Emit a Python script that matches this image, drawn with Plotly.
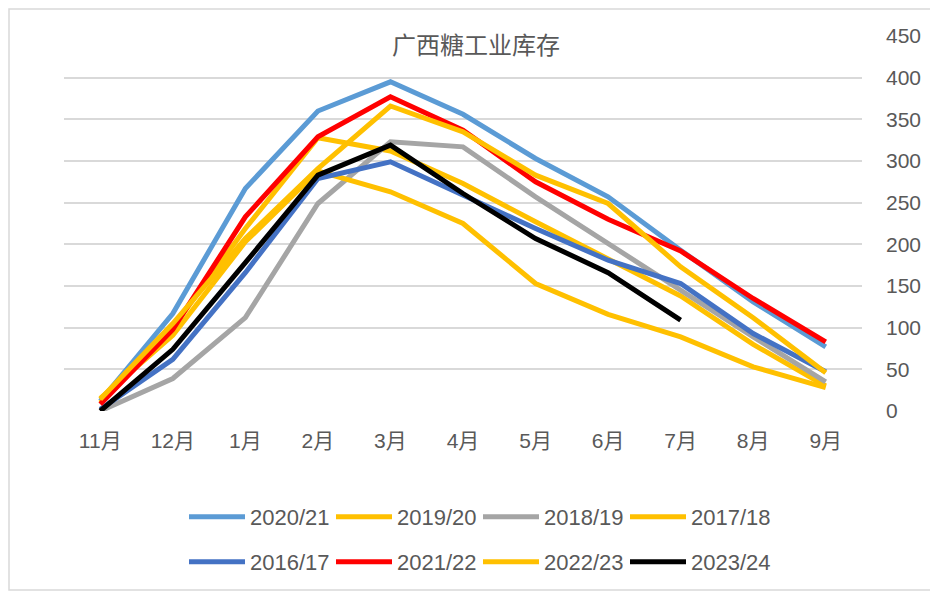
import plotly.graph_objects as go

months = ["11月", "12月", "1月", "2月", "3月", "4月", "5月", "6月", "7月", "8月", "9月"]

s_2020_21 = [12, 117, 267, 360, 395, 356, 303, 257, 193, 131, 77]
s_2019_20 = [10, 100, 219, 328, 312, 273, 227, 183, 138, 80, 30]
s_2018_19 = [0, 39, 112, 249, 323, 317, 257, 201, 145, 89, 35]
s_2017_18 = [15, 91, 203, 288, 263, 225, 153, 116, 89, 53, 28]
s_2016_17 = [2, 62, 166, 279, 299, 259, 219, 181, 153, 93, 47]
s_2021_22 = [8, 98, 233, 329, 377, 337, 275, 230, 192, 135, 83]
s_2022_23 = [14, 105, 207, 291, 366, 335, 283, 249, 173, 112, 46]
s_2023_24 = [0, 74, 178, 283, 319, 261, 207, 166, 109]

series_names = ["2020/21", "2019/20", "2018/19", "2017/18",
                "2016/17", "2021/22", "2022/23", "2023/24"]
series_values = [s_2020_21, s_2019_20, s_2018_19, s_2017_18,
                 s_2016_17, s_2021_22, s_2022_23, s_2023_24]
series_colors = ["#5B9BD5", "#FFC000", "#A5A5A5", "#FFC000",
                 "#4472C4", "#FF0000", "#FFC000", "#000000"]

y_ticks = list(range(0, 451, 50))
title_text = "广西糖工业库存"

FONT = "Liberation Sans, Arial, Noto Sans CJK SC, sans-serif"
GRAY = "#595959"

fig = go.Figure()
for i, (name, vals, col) in enumerate(zip(series_names, series_values, series_colors)):
    fig.add_trace(go.Scatter(
        x=months[:len(vals)], y=vals, name=name, mode="lines",
        line=dict(color=col, width=5),
        legend="legend" if i < 4 else "legend2",
    ))

# page body has an 8px margin: the figure is placed at (8, 8) on screen
OFF = 8
W, H = 938 - OFF, 593 - OFF
# plot area in screen pixels: x 64..862, y 36..410.7
L = 64 - OFF
R = 938 - 862
T = 36 - OFF
B = 593 - 411

def px_x(p):
    return (p - OFF - L) / (W - L - R)

def px_y(p):
    return (H - B - (p - OFF)) / (H - T - B)

legend_common = dict(
    orientation="h", xanchor="left", yanchor="middle",
    font=dict(family=FONT, size=22, color=GRAY),
    bgcolor="rgba(0,0,0,0)", itemwidth=56, tracegroupgap=0,
    entrywidth=76, entrywidthmode="pixels",
)

fig.update_layout(
    width=W, height=H,
    margin=dict(l=L, r=R, t=T, b=B, autoexpand=False),
    paper_bgcolor="white", plot_bgcolor="white",
    showlegend=True,
    legend=dict(x=px_x(184), y=px_y(517), **legend_common),
    legend2=dict(x=px_x(184), y=px_y(562), **legend_common),
    xaxis=dict(
        type="category", categoryorder="array", categoryarray=months,
        range=[-0.5, 10.5], showgrid=False, zeroline=False,
        showline=False, ticks="",
        tickfont=dict(family=FONT, size=21, color=GRAY),
        ticklabelstandoff=15,
    ),
    yaxis=dict(
        side="right", range=[0, 450], tickvals=y_ticks,
        showgrid=True, gridcolor="#D9D9D9", gridwidth=1.5,
        zeroline=False, showline=False, ticks="",
        tickfont=dict(family=FONT, size=21, color=GRAY),
        ticklabelstandoff=23,
    ),
    annotations=[dict(
        text=title_text, xref="paper", yref="paper",
        x=px_x(476), y=px_y(44), xanchor="center", yanchor="middle",
        showarrow=False,
        font=dict(family="Noto Sans CJK SC, sans-serif", size=24, color=GRAY),
    )],
    shapes=[dict(
        type="rect", xref="paper", yref="paper",
        x0=px_x(9), x1=px_x(945), y0=px_y(590), y1=px_y(9),
        line=dict(color="#D9D9D9", width=1.5), fillcolor="rgba(0,0,0,0)",
        layer="below",
    )],
)

fig.write_html("out.html")
